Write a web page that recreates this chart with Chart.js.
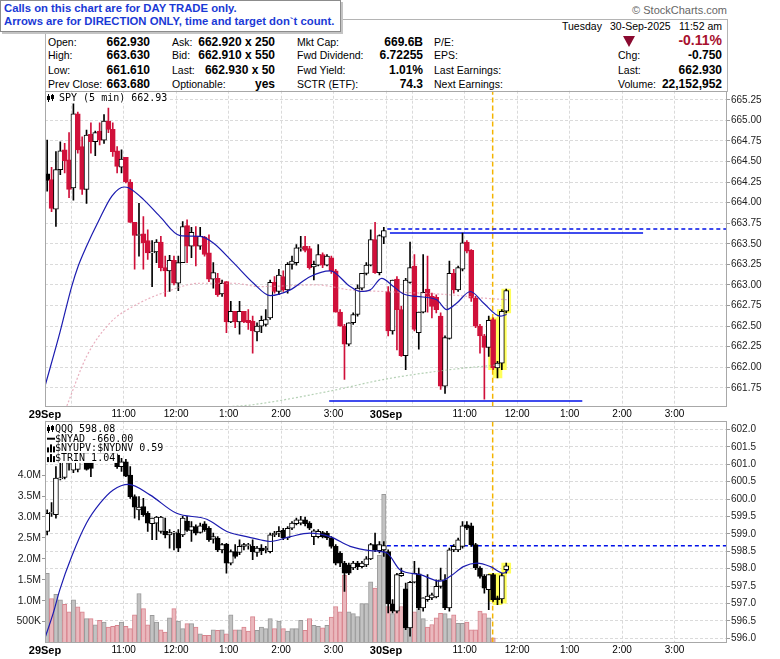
<!DOCTYPE html>
<html lang="en">
<head>
<meta charset="UTF-8">
<title>SPY 5 min</title>
<style>
  body { margin: 0; background: #fff; font-family: "Liberation Sans", Arial, sans-serif; }
  #page { position: relative; width: 780px; height: 659px; overflow: hidden; }
  .calls { position: absolute; left: 0; top: 0; width: 336px; height: 29px; padding: 1px 0 0 3px; background: #fff;
    border: 1px solid #8c8c8c; box-shadow: 2px 2px 0 #c4c4c4; color: #1a3ad6; font-weight: bold;
    font-size: 11.3px; line-height: 13px; z-index: 5; white-space: nowrap; }
  .logo { position: absolute; right: 53px; top: 4px; font-size: 11px; color: #666; }
  .box { position: absolute; left: 45px; top: 19px; width: 681px; height: 71px; border: 1px solid #b4b4b4; }
  .t { position: absolute; font-size: 10.5px; line-height: 14px; white-space: nowrap; }
  .v { position: absolute; font-size: 12px; font-weight: bold; line-height: 14px; white-space: nowrap; }
  .tri { position: absolute; left: 623px; top: 36px; width: 0; height: 0;
    border-left: 6px solid transparent; border-right: 6px solid transparent; border-top: 11px solid #8a0a30; }
  #c1 { position: absolute; left: 0; top: 88px; }
  #c2 { position: absolute; left: 0; top: 419px; }
</style>
</head>
<body>
<div id="page">
  <div class="calls">Calls on this chart are for DAY TRADE only.<br>Arrows are for DIRECTION ONLY, time and target don`t count.</div>
  <div class="logo">&copy; StockCharts.com</div>
  <div class="box"></div>

  <span class="t" style="left:562px;top:19px">Tuesday</span>
  <span class="t" style="left:610px;top:19px">30-Sep-2025</span>
  <span class="t" style="right:58px;top:19px">11:52 am</span>

  <span class="t" style="left:48px;top:35px">Open:</span><span class="v" style="right:630px;top:35px">662.930</span>
  <span class="t" style="left:48px;top:48px">High:</span><span class="v" style="right:630px;top:48px">663.630</span>
  <span class="t" style="left:48px;top:63px">Low:</span><span class="v" style="right:630px;top:63px">661.610</span>
  <span class="t" style="left:48px;top:77px">Prev Close:</span><span class="v" style="right:630px;top:77px">663.680</span>

  <span class="t" style="left:172px;top:35px">Ask:</span><span class="v" style="right:505px;top:35px">662.920 x 250</span>
  <span class="t" style="left:172px;top:48px">Bid:</span><span class="v" style="right:505px;top:48px">662.910 x 550</span>
  <span class="t" style="left:172px;top:63px">Last:</span><span class="v" style="right:505px;top:63px">662.930 x 50</span>
  <span class="t" style="left:172px;top:77px">Optionable:</span><span class="v" style="right:505px;top:77px">yes</span>

  <span class="t" style="left:297px;top:35px">Mkt Cap:</span><span class="v" style="right:357px;top:35px">669.6B</span>
  <span class="t" style="left:297px;top:48px">Fwd Dividend:</span><span class="v" style="right:357px;top:48px">6.72255</span>
  <span class="t" style="left:297px;top:63px">Fwd Yield:</span><span class="v" style="right:357px;top:63px">1.01%</span>
  <span class="t" style="left:297px;top:77px">SCTR (ETF):</span><span class="v" style="right:357px;top:77px">74.3</span>

  <span class="t" style="left:434px;top:35px">P/E:</span>
  <span class="t" style="left:434px;top:48px">EPS:</span>
  <span class="t" style="left:434px;top:63px">Last Earnings:</span>
  <span class="t" style="left:434px;top:77px">Next Earnings:</span>

  <div class="tri"></div>
  <span class="v" style="right:58px;top:33px;font-size:14px;color:#a8102e">-0.11%</span>
  <span class="t" style="left:618px;top:48px">Chg:</span><span class="v" style="right:58px;top:48px">-0.750</span>
  <span class="t" style="left:618px;top:63px">Last:</span><span class="v" style="right:58px;top:63px">662.930</span>
  <span class="t" style="left:618px;top:77px">Volume:</span><span class="v" style="right:58px;top:77px">22,152,952</span>

  <canvas id="c1" width="780" height="332"></canvas>
  <canvas id="c2" width="780" height="240"></canvas>
</div>

<script src="https://cdn.jsdelivr.net/npm/chart.js"></script>
<script>
// ---- SPY 5 min candles, 29 Sep (bars 0-77) and 30 Sep (bars 78-105) ----
const spyOpen = [664.35, 664.28, 663.92, 664.40, 664.64, 664.52, 664.18, 665.08, 664.68, 664.16,
  664.83, 664.74, 664.87, 664.76, 664.99, 664.89, 664.63, 664.43, 664.55, 664.25,
  663.76, 663.60, 663.62, 663.54, 663.39, 663.40, 663.52, 663.21, 663.17, 663.30,
  663.02, 663.27, 663.72, 663.47, 663.59, 663.47, 663.58, 663.39, 663.07, 663.08,
  662.89, 663.04, 662.55, 662.68, 662.55, 662.68, 662.57, 662.56, 662.43, 662.50,
  662.52, 662.60, 663.03, 662.92, 663.10, 662.94, 663.25, 663.27, 663.44, 663.47,
  663.44, 663.22, 663.24, 663.37, 663.24, 663.33, 663.17, 662.67, 662.50, 662.28,
  662.54, 662.64, 662.96, 663.14, 663.24, 663.55, 663.15, 663.58,
  662.92, 662.44, 663.07, 662.70, 662.14, 663.03, 663.23, 662.42, 662.67, 662.95,
  662.86, 662.85, 662.62, 661.77, 662.35, 663.14, 662.94, 663.19, 663.52, 663.42,
  662.84, 662.50, 662.38, 662.24, 662.58, 661.99, 662.05, 662.68];
const spyHigh = [664.76, 664.43, 664.62, 664.74, 664.72, 664.85, 665.20, 665.10, 664.80, 664.88,
  664.97, 664.87, 664.97, 665.07, 665.15, 664.97, 664.68, 664.64, 664.55, 664.28,
  663.76, 663.99, 663.83, 663.67, 663.54, 663.55, 663.59, 663.35, 663.36, 663.35,
  663.35, 663.77, 663.79, 663.70, 663.71, 663.70, 663.59, 663.61, 663.27, 663.14,
  663.06, 663.04, 662.80, 662.68, 662.80, 662.68, 662.70, 662.62, 662.54, 662.62,
  662.70, 663.06, 663.10, 663.19, 663.17, 663.27, 663.35, 663.49, 663.59, 663.59,
  663.47, 663.29, 663.49, 663.39, 663.37, 663.35, 663.19, 662.70, 662.52, 662.54,
  662.66, 663.00, 663.14, 663.27, 663.67, 663.76, 663.61, 663.70,
  662.98, 663.06, 663.10, 662.74, 663.08, 663.52, 663.37, 662.67, 663.37, 663.35,
  662.90, 662.88, 662.66, 662.38, 663.29, 663.19, 663.23, 663.63, 663.54, 663.43,
  662.86, 662.52, 662.40, 662.62, 662.60, 662.07, 662.70, 662.95];
const spyLow = [664.14, 663.89, 663.71, 664.34, 664.36, 664.06, 664.03, 664.60, 664.10, 663.99,
  664.60, 664.57, 664.70, 664.72, 664.85, 664.56, 664.36, 664.36, 664.24, 663.76,
  663.19, 663.35, 663.19, 663.31, 662.98, 663.27, 663.17, 662.86, 662.92, 663.00,
  662.93, 663.27, 663.27, 663.33, 663.23, 663.43, 663.35, 663.04, 662.96, 662.86,
  662.86, 662.42, 662.54, 662.48, 662.40, 662.54, 662.46, 662.17, 662.32, 662.42,
  662.50, 662.58, 662.90, 662.88, 662.92, 662.90, 663.19, 663.24, 663.41, 663.40,
  663.19, 663.06, 663.23, 663.21, 663.23, 663.14, 662.67, 662.50, 661.85, 662.26,
  662.52, 662.62, 662.94, 663.12, 663.23, 663.14, 663.12, 663.50,
  662.38, 662.40, 662.21, 662.13, 661.97, 663.02, 662.44, 662.22, 662.66, 662.67,
  662.60, 662.66, 661.73, 661.68, 662.34, 662.90, 662.92, 663.17, 663.39, 662.80,
  662.48, 662.17, 661.61, 662.13, 661.97, 661.87, 661.97, 662.66];
const spyClose = [664.27, 663.93, 664.40, 664.63, 664.51, 664.16, 665.08, 664.64, 664.16, 664.82,
  664.74, 664.85, 664.76, 664.99, 664.89, 664.62, 664.44, 664.53, 664.25, 663.76,
  663.60, 663.61, 663.51, 663.39, 663.40, 663.52, 663.21, 663.17, 663.30, 663.02,
  663.27, 663.71, 663.47, 663.64, 663.47, 663.59, 663.37, 663.07, 663.15, 662.88,
  663.02, 662.55, 662.68, 662.55, 662.68, 662.55, 662.54, 662.44, 662.50, 662.57,
  662.58, 663.03, 662.92, 663.12, 662.94, 663.25, 663.29, 663.45, 663.45, 663.42,
  663.21, 663.25, 663.37, 663.24, 663.35, 663.17, 662.67, 662.50, 662.28, 662.54,
  662.64, 662.96, 663.14, 663.24, 663.55, 663.15, 663.60, 663.66,
  662.44, 663.06, 662.70, 662.14, 663.06, 663.21, 662.46, 662.67, 662.91, 662.86,
  662.74, 662.70, 661.77, 662.36, 663.14, 662.94, 663.21, 663.51, 663.41, 662.84,
  662.50, 662.38, 662.24, 662.57, 661.99, 662.05, 662.68, 662.93];

// ---- QQQ 5 min candles ----
const qqqOpen = [599.07, 599.59, 599.55, 600.58, 600.62, 601.02, 600.83, 600.85, 601.35, 601.50,
  601.20, 601.10, 601.45, 601.30, 601.65, 601.50, 601.26, 600.93, 601.07, 600.69,
  600.07, 599.69, 599.78, 599.59, 599.29, 599.31, 599.07, 599.07, 598.97, 599.02,
  599.02, 598.97, 599.37, 599.10, 599.21, 599.04, 599.29, 599.16, 598.85, 598.88,
  598.54, 598.71, 598.16, 598.49, 598.47, 598.64, 598.66, 598.64, 598.47, 598.59,
  598.54, 598.49, 598.97, 599.02, 599.10, 598.88, 599.16, 599.29, 599.31, 599.40,
  599.31, 598.92, 598.92, 599.04, 599.02, 598.88, 598.64, 598.45, 598.16, 598.11,
  598.02, 598.16, 598.06, 598.11, 598.28, 598.69, 598.52, 598.54,
  598.49, 596.99, 596.78, 597.80, 597.42, 596.30, 597.61, 597.85, 596.87, 597.11,
  597.16, 597.19, 597.49, 597.68, 596.87, 598.54, 598.54, 598.64, 599.26, 599.23,
  598.69, 598.02, 597.78, 597.40, 597.83, 597.16, 597.13, 597.97];
const qqqHigh = [599.69, 599.90, 600.93, 601.07, 601.25, 601.30, 601.45, 601.50, 601.60, 601.60,
  601.30, 601.55, 601.60, 601.75, 601.80, 601.55, 601.30, 601.17, 601.14, 600.93,
  600.12, 600.07, 600.02, 599.64, 599.45, 599.50, 599.50, 599.45, 599.12, 599.07,
  599.12, 599.50, 599.50, 599.35, 599.26, 599.31, 599.35, 599.21, 599.02, 598.92,
  598.73, 598.73, 598.54, 598.69, 598.83, 598.73, 598.73, 598.83, 598.64, 598.69,
  598.64, 599.02, 599.07, 599.21, 599.16, 599.21, 599.35, 599.45, 599.50, 599.48,
  599.35, 599.12, 599.12, 599.07, 599.07, 598.92, 598.69, 598.49, 598.21, 598.16,
  598.21, 598.21, 598.21, 598.35, 598.73, 599.02, 598.78, 598.78,
  598.54, 597.11, 597.87, 598.02, 597.59, 597.64, 598.21, 598.02, 597.16, 597.83,
  597.30, 597.68, 598.02, 597.83, 598.59, 598.69, 598.88, 599.35, 599.35, 599.31,
  598.73, 598.06, 597.83, 597.83, 597.87, 597.21, 597.87, 598.16];
const qqqLow = [598.97, 599.50, 599.45, 600.55, 600.58, 600.83, 600.76, 600.78, 601.10, 600.83,
  600.64, 601.08, 601.20, 601.25, 601.40, 601.20, 600.88, 600.79, 600.64, 600.02,
  599.45, 599.40, 599.50, 599.07, 598.83, 598.83, 599.02, 598.88, 598.59, 598.54,
  598.49, 598.92, 599.07, 598.78, 598.97, 599.02, 599.07, 598.78, 598.73, 598.49,
  598.45, 597.87, 598.11, 598.30, 598.40, 598.54, 598.56, 598.26, 598.35, 598.40,
  598.45, 598.45, 598.92, 598.92, 598.83, 598.83, 599.12, 599.26, 599.26, 599.23,
  599.12, 598.69, 598.88, 598.88, 598.83, 598.59, 598.11, 598.06, 597.35, 597.83,
  597.97, 597.97, 598.02, 598.06, 598.26, 598.49, 598.45, 598.35,
  596.73, 596.73, 596.73, 597.78, 596.25, 596.06, 597.59, 596.82, 596.78, 597.06,
  597.11, 597.16, 597.44, 596.82, 596.78, 598.49, 598.49, 598.59, 599.12, 598.64,
  597.97, 597.73, 597.30, 596.82, 597.06, 596.97, 597.01, 597.87];
const qqqClose = [599.59, 599.60, 600.60, 600.60, 601.10, 601.05, 601.35, 601.40, 601.50, 600.85,
  600.88, 601.45, 601.30, 601.65, 601.50, 601.25, 600.93, 601.07, 600.66, 600.07,
  599.77, 599.77, 599.55, 599.31, 599.45, 599.48, 599.48, 598.97, 599.04, 599.04,
  598.59, 599.45, 599.10, 599.21, 599.02, 599.23, 599.12, 598.83, 598.92, 598.54,
  598.69, 598.16, 598.49, 598.35, 598.64, 598.69, 598.69, 598.49, 598.59, 598.52,
  598.59, 598.97, 599.02, 599.07, 598.88, 599.16, 599.31, 599.40, 599.40, 599.29,
  599.16, 599.09, 599.07, 598.92, 598.88, 598.64, 598.16, 598.16, 597.87, 597.87,
  598.16, 598.06, 598.16, 598.28, 598.69, 598.54, 598.69, 598.66,
  596.99, 596.78, 597.83, 597.87, 596.30, 597.61, 597.87, 596.87, 597.16, 597.21,
  597.25, 597.49, 597.68, 596.87, 598.54, 598.64, 598.83, 599.23, 599.16, 598.69,
  598.02, 597.78, 597.44, 597.83, 597.11, 597.11, 597.80, 598.08];

// volume per bar, thousands of shares
const volume = [1650, 1050, 1150, 1020, 910, 730, 1020, 850, 730, 570,
  570, 420, 530, 490, 370, 385, 410, 490, 385, 330,
  660, 1170, 810, 420, 650, 490, 300, 250, 590, 810,
  510, 330, 450, 450, 370, 210, 170, 170, 300, 290,
  300, 210, 660, 300, 300, 370, 270, 620, 290, 370,
  330, 570, 330, 510, 330, 270, 330, 330, 530, 290,
  570, 410, 385, 350, 410, 610, 860, 730, 1610, 730,
  690, 620, 930, 930, 1450, 1300, 2090, 3540,
  860, 690, 810, 860, 730, 890, 730, 810, 570, 370,
  430, 590, 700, 690, 570, 660, 460, 460, 490, 300,
  300, 750, 690, 590, 110, null, null, null];

// moving averages (x in bar units)
const spyMaX = [0, 3.4, 6.1, 7.6, 9.5, 12.2, 15.3, 18.1, 19.1, 22.5, 26.3, 30.9, 35.5, 38.5, 43.1, 47.7, 51.5,
  56.1, 60.6, 65.2, 69.8, 72.1, 74.4, 77, 79.7, 82, 85, 89.6, 91.9, 94.2, 97.3, 100.3, 104.1, 105.6];
const spyMaY = [661.77, 662.42, 662.98, 663.23, 663.47, 663.77, 664.08, 664.19, 664.18, 664.04, 663.83, 663.60,
  663.59, 663.51, 663.27, 663.02, 662.87, 662.94, 663.10, 663.17, 662.98, 662.92, 662.94, 663.08, 662.98,
  662.89, 662.86, 662.82, 662.70, 662.78, 662.92, 662.78, 662.62, 662.64];
const spySlowX = [5, 9.5, 14.9, 20.2, 27.9, 35.5, 43.1, 49.2, 62.2, 69.8, 77.4, 92.6, 100.3, 105.6];
const spySlowY = [661.53, 662.13, 662.54, 662.74, 662.92, 663.02, 663.02, 662.98, 663.00, 662.94, 662.92,
  662.88, 662.84, 662.82];
const spyLongX = [42, 46.9, 65.2, 77.4, 92.6, 104.1];
const spyLongY = [661.52, 661.54, 661.71, 661.85, 661.97, 662.03];
const qqqMaX = [0, 1.9, 3.4, 6.1, 9.5, 12.6, 15.6, 19.1, 24.0, 30.1, 37.0, 41.6, 46.1, 49.2, 51.5, 56.1,
  60.6, 65.2, 69.8, 74.4, 78.2, 81.2, 85.8, 90.4, 92.7, 95.7, 98.8, 101.9, 104.9, 106];
const qqqMaY = [596.01, 596.73, 597.40, 598.35, 599.31, 599.88, 600.26, 600.42, 600.12, 599.59, 599.42,
  599.07, 598.92, 598.83, 598.78, 598.92, 599.02, 598.92, 598.64, 598.52, 598.45, 597.97, 597.83, 597.64,
  597.78, 598.06, 598.16, 598.06, 597.87, 597.97];

// drawn levels: price, start bar, end bar
const spyLevels = [663.68, 663.63, 661.59];
const spyLevelFrom = [78.3, 78.9, 65];
const spyLevelTo = [156, 136.8, 122.9];
const qqqLevels = [598.66];
const qqqLevelFrom = [78.2];
const qqqLevelTo = [156];
const markerBar = 102.4;
const highlightFrom = 102;

// axes
const xTickPos = [0, 6, 18, 30, 42, 54, 66, 78, 84, 96, 108, 120, 132, 144];
const xTickText = ['29Sep', '', '11:00', '12:00', '1:00', '2:00', '3:00', '30Sep', '', '11:00', '12:00', '1:00', '2:00', '3:00'];
const spyTicks = [661.75, 662.00, 662.25, 662.50, 662.75, 663.00, 663.25, 663.50, 663.75, 664.00, 664.25, 664.50, 664.75, 665.00, 665.25];
const qqqTicks = [596.0, 596.5, 597.0, 597.5, 598.0, 598.5, 599.0, 599.5, 600.0, 600.5, 601.0, 601.5, 602.0];
const volTicks = [500, 1000, 1500, 2000, 2500, 3000, 3500, 4000];
const spyRange = [661.52, 665.36];
const qqqRange = [595.88, 602.25];
const volRange = [0, 5300];

const RED = '#d0103a';
const BLACK = '#000000';
const GRID = '#dadada';
Chart.defaults.font.family = '"Liberation Sans", Arial, sans-serif';
Chart.defaults.animation = false;

function candleSets(o, h, l, c, mono, yAxisID) {
  const edge = [], fill = [];
  for (let i = 0; i < o.length; i++) {
    const col = mono || i === 0 || c[i] >= c[i - 1] ? BLACK : RED;
    edge.push(col);
    fill.push(c[i] >= o[i] ? '#ffffff' : col);
  }
  return [
    { type: 'bar', data: o.map((v, i) => ({ x: i + 0.5, y: [o[i], c[i]] })), yAxisID,
      backgroundColor: fill, borderColor: edge, borderWidth: 1, borderSkipped: false,
      barThickness: 5, minBarLength: 1, grouped: false, order: 2 },
    { type: 'bar', data: o.map((v, i) => ({ x: i + 0.5, y: [l[i], h[i]] })), yAxisID,
      backgroundColor: edge, borderWidth: 0, barThickness: 1, grouped: false, order: 3 }
  ];
}

function highlightSet(h, l, yAxisID) {
  const data = [];
  for (let i = highlightFrom; i < h.length; i++) data.push({ x: i + 0.5, y: [l[i], h[i]] });
  return { type: 'bar', data, yAxisID, backgroundColor: '#ffff5a', borderColor: '#ffff5a',
    borderWidth: 0, barThickness: 9, minBarLength: 1, grouped: false, order: 9 };
}

function lineSet(xs, ys, color, width, dash, yAxisID, order) {
  return { type: 'line', data: xs.map((x, i) => ({ x, y: ys[i] })), yAxisID, order,
    borderColor: color, borderWidth: width, borderDash: dash, pointRadius: 0,
    cubicInterpolationMode: 'monotone', fill: false };
}

function levelSets(levels, from, to, yAxisID) {
  return levels.map((v, k) => lineSet([from[k], to[k]], [v, v], '#0010e8', 1.5,
    k === 0 ? [4, 3] : [], yAxisID, 4));
}

function noPad(s) { s.paddingTop = 0; s.paddingBottom = 0; s.paddingLeft = 0; s.paddingRight = 0; }

function xAxis(height) {
  return {
    type: 'linear', min: 0, max: 156, offset: false,
    afterBuildTicks: s => { s.ticks = xTickPos.map(v => ({ value: v })); },
    afterFit: s => { s.height = height; noPad(s); },
    grid: { color: GRID, drawTicks: false, offset: false },
    border: { display: false, dash: [3, 2] },
    ticks: { autoSkip: false, maxRotation: 0, padding: 2, color: '#000',
      callback: (v, i) => xTickText[i],
      font: c => (c.tick && c.tick.value % 78 === 0) ? { size: 11, weight: 'bold' } : { size: 10 } }
  };
}

function priceAxis(range, ticks, digits) {
  return {
    position: 'right', min: range[0], max: range[1],
    afterBuildTicks: s => { s.ticks = ticks.map(v => ({ value: v })); },
    afterFit: s => { s.width = 53; noPad(s); },
    grid: { color: GRID, tickColor: '#999', tickLength: 3 },
    border: { display: false, dash: [3, 2] },
    ticks: { padding: 1, color: '#222', font: { size: 10 }, callback: v => v.toFixed(digits) }
  };
}

function drawIcon(ctx, kind, x, y) {
  ctx.fillStyle = '#000';
  if (kind === 'candle') {
    ctx.fillRect(x + 1, y - 4, 1, 8); ctx.fillRect(x, y - 2, 3, 4);
    ctx.fillRect(x + 5, y - 4, 1, 7); ctx.strokeStyle = '#000'; ctx.lineWidth = 1;
    ctx.strokeRect(x + 4.5, y - 2.5, 2, 3);
  } else if (kind === 'line') {
    ctx.fillRect(x, y - 1, 8, 2);
  } else {
    ctx.fillRect(x, y - 1, 2, 5); ctx.fillRect(x + 3, y - 4, 2, 8); ctx.fillRect(x + 6, y - 2, 2, 6);
  }
}

const frame = {
  id: 'frame',
  afterDatasetsDraw(chart) {
    const a = chart.chartArea, ctx = chart.ctx;
    ctx.save();
    ctx.strokeStyle = '#a8a8a8';
    ctx.lineWidth = 1;
    ctx.strokeRect(Math.round(a.left) + 0.5, Math.round(a.top) + 0.5,
      Math.round(a.right - a.left) - 1, Math.round(a.bottom - a.top) - 1);
    ctx.restore();
  }
};

const panelLegend = {
  id: 'panelLegend',
  afterDatasetsDraw(chart, args, opts) {
    if (!opts.lines) return;
    const a = chart.chartArea, ctx = chart.ctx;
    ctx.save();
    ctx.font = '10px "DejaVu Sans Mono"';
    ctx.textBaseline = 'middle';
    opts.lines.forEach((ln, k) => {
      const y = a.top + opts.top + k * opts.step;
      const w = ctx.measureText(ln.text).width;
      ctx.fillStyle = '#fff';
      ctx.fillRect(a.left + 1, y - opts.step / 2, opts.textX + w + 1, opts.step);
      drawIcon(ctx, ln.icon, a.left + 2, y);
      ctx.fillStyle = '#000';
      ctx.fillText(ln.text, a.left + opts.textX, y + 0.5);
    });
    ctx.restore();
  }
};

const last = arr => arr[arr.length - 1];

// ---- top panel: SPY ----
new Chart(document.getElementById('c1'), {
  type: 'bar',
  data: {
    datasets: [
      lineSet(spyMaX, spyMaY, '#1c1cb0', 1.2, [], 'y', 0),
      lineSet(spySlowX, spySlowY, 'rgba(226,150,170,0.75)', 1.2, [2, 2], 'y', 1),
      lineSet(spyLongX, spyLongY, 'rgba(150,190,150,0.7)', 1.2, [2, 2], 'y', 1),
      ...candleSets(spyOpen, spyHigh, spyLow, spyClose, false, 'y'),
      ...levelSets(spyLevels, spyLevelFrom, spyLevelTo, 'y'),
      lineSet([markerBar, markerBar], spyRange, '#f4b400', 1.5, [5, 3], 'y', 5),
      highlightSet(spyHigh, spyLow, 'y')
    ]
  },
  options: {
    responsive: false,
    layout: { padding: { left: 45, top: 2.7, right: 0, bottom: 0 } },
    plugins: {
      legend: { display: false }, tooltip: { enabled: false },
      panelLegend: { top: 7.3, step: 10, textX: 14,
        lines: [{ icon: 'candle', text: 'SPY (5 min) ' + last(spyClose).toFixed(2) }] }
    },
    scales: {
      x: xAxis(13.3),
      y: priceAxis(spyRange, spyTicks, 2)
    }
  },
  plugins: [frame, panelLegend]
});

// ---- bottom panel: QQQ with volume ----
const volColor = volume.map((v, i) => i > 0 && spyClose[i] < spyClose[i - 1] ? '#eab8bd' : '#c2c2c2');
const volEdge = volume.map((v, i) => i > 0 && spyClose[i] < spyClose[i - 1] ? '#d8848e' : '#9a9a9a');

new Chart(document.getElementById('c2'), {
  type: 'bar',
  data: {
    datasets: [
      lineSet(qqqMaX, qqqMaY, '#1c1cb0', 1.2, [], 'y', 0),
      ...candleSets(qqqOpen, qqqHigh, qqqLow, qqqClose, true, 'y'),
      ...levelSets(qqqLevels, qqqLevelFrom, qqqLevelTo, 'y'),
      lineSet([markerBar, markerBar], qqqRange, '#f4b400', 1.5, [5, 3], 'y', 5),
      highlightSet(qqqHigh, qqqLow, 'y'),
      { type: 'bar', data: volume.map((v, i) => ({ x: i + 0.5, y: v })), yAxisID: 'vol',
        backgroundColor: volColor, borderColor: volEdge, borderWidth: 1,
        barPercentage: 1, categoryPercentage: 1, grouped: false, order: 10 }
    ]
  },
  options: {
    responsive: false,
    layout: { padding: { left: 0, top: 1.7, right: 0, bottom: 0 } },
    plugins: {
      legend: { display: false }, tooltip: { enabled: false },
      panelLegend: { top: 8.3, step: 9.7, textX: 10,
        lines: [
          { icon: 'candle', text: 'QQQ ' + last(qqqClose).toFixed(2) },
          { icon: 'line', text: '$NYAD -660.00' },
          { icon: 'bars', text: '$NYUPV:$NYDNV 0.59' },
          { icon: 'bars', text: '$TRIN 1.04' }
        ] }
    },
    scales: {
      x: xAxis(16.5),
      vol: {
        position: 'left', min: volRange[0], max: volRange[1],
        afterBuildTicks: s => { s.ticks = volTicks.map(v => ({ value: v })); },
        afterFit: s => { s.width = 45; noPad(s); },
        grid: { drawOnChartArea: false, tickLength: 3, tickColor: '#999' },
        border: { display: false },
        ticks: { padding: 1, color: '#222', font: { size: 10.5 },
          callback: v => v < 1000 ? v + 'K' : (v / 1000).toFixed(1) + 'M' }
      },
      y: priceAxis(qqqRange, qqqTicks, 1)
    }
  },
  plugins: [frame, panelLegend]
});
</script>
</body>
</html>
